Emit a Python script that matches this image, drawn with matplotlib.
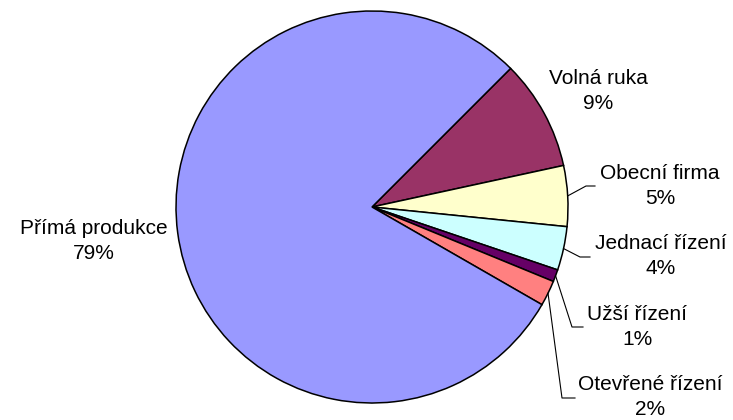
import numpy as np
import matplotlib
matplotlib.use("Agg")
import matplotlib.pyplot as plt

labels = ["Volná ruka", "Obecní firma", "Jednací řízení", "Užší řízení", "Otevřené řízení", "Přímá produkce"]
values = [9.1, 5.0, 3.6, 1.0, 2.1, 79.2]
colors = ["#993366", "#FFFFCC", "#CCFFFF", "#660066", "#FF8080", "#9999FF"]

W, H = 733, 420
CX, CY, R = 372, 207, 196  # pixel layout of pie

fig = plt.figure(figsize=(W / 100, H / 100), dpi=100)
ax = fig.add_axes([0, 0, 1, 1])
ax.set_axis_off()

wedges, _ = ax.pie(values, colors=colors, startangle=45, counterclock=False,
                   wedgeprops=dict(edgecolor="black", linewidth=1.1),
                   radius=1.0, center=(0, 0))
ax.set_xlim(-CX / R, (W - CX) / R)
ax.set_ylim(-(H - CY) / R, CY / R)
ax.set_aspect("equal", adjustable="box")

def px(x, y):
    return ((x - CX) / R, (CY - y) / R)

# label text centres (pixels) and leader elbow points (pixels) - layout only
label_pos = [(598, 91), (660, 186), (661, 256), (637, 327), (650, 397), (94, 241)]
elbows = [None, ((586, 186), (595, 186)), ((580, 257), (590, 257)),
          ((572, 327), (583, 327)), ((562, 398), (575, 398)), None]

total = sum(values)
start = 45.0
for i, (lab, v) in enumerate(zip(labels, values)):
    ang = v / total * 360.0
    mid = np.deg2rad(start - ang / 2)
    start -= ang
    tx, ty = px(*label_pos[i])
    ax.text(tx, ty, f"{lab}\n{v:.0f}%", ha="center", va="center",
            fontsize=15, family=["Liberation Sans", "DejaVu Sans"], linespacing=1.42)
    if elbows[i] is not None:
        sx, sy = np.cos(mid) * 1.0, np.sin(mid) * 1.0
        (e1x, e1y), (e2x, e2y) = px(*elbows[i][0]), px(*elbows[i][1])
        ax.plot([sx, e1x, e2x], [sy, e1y, e2y], color="black", lw=0.8)

fig.savefig("out.png", dpi=100)
